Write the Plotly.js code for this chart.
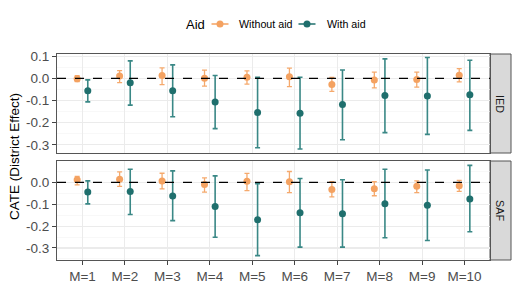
<!DOCTYPE html>
<html>
<head>
<meta charset="utf-8">
<script src="https://cdn.plot.ly/plotly-3.0.1.min.js"></script>
<style>html,body{margin:0;padding:0;background:#fff;}#chart{width:518px;height:291px;}</style>
</head>
<body>
<div id="chart"></div>
<script>
// ---- data ----
const categories = ["M=1","M=2","M=3","M=4","M=5","M=6","M=7","M=8","M=9","M=10"];
const groups = ["Without aid", "With aid"];
const legendTitle = "Aid";
const panels = ["IED", "SAF"];

const iedWithoutEst = [-0.002, 0.011, 0.013, 0.001, 0.005, 0.007, -0.028, -0.007, -0.005, 0.014];
const iedWithoutLo  = [-0.015, -0.019, -0.028, -0.035, -0.026, -0.037, -0.059, -0.043, -0.040, -0.016];
const iedWithoutHi  = [0.012, 0.035, 0.047, 0.037, 0.034, 0.046, 0.004, 0.028, 0.028, 0.044];

const iedWithEst = [-0.056, -0.020, -0.056, -0.107, -0.154, -0.157, -0.118, -0.077, -0.080, -0.074];
const iedWithLo  = [-0.106, -0.121, -0.173, -0.227, -0.313, -0.319, -0.277, -0.245, -0.253, -0.235];
const iedWithHi  = [-0.007, 0.079, 0.061, 0.013, 0.005, 0.005, 0.038, 0.088, 0.094, 0.082];

const safWithoutEst = [0.012, 0.015, 0.007, -0.009, 0.005, 0.003, -0.032, -0.029, -0.018, -0.015];
const safWithoutLo  = [-0.011, -0.018, -0.030, -0.044, -0.038, -0.047, -0.066, -0.061, -0.047, -0.041];
const safWithoutHi  = [0.028, 0.048, 0.042, 0.021, 0.041, 0.050, 0.003, 0.003, 0.007, 0.009];

const safWithEst = [-0.044, -0.042, -0.062, -0.110, -0.171, -0.139, -0.143, -0.098, -0.104, -0.076];
const safWithLo  = [-0.098, -0.147, -0.175, -0.251, -0.335, -0.296, -0.296, -0.253, -0.266, -0.226];
const safWithHi  = [0.007, 0.060, 0.053, 0.030, -0.006, 0.018, 0.012, 0.060, 0.057, 0.078];

const yTickVals = [0.1, 0.0, -0.1, -0.2, -0.3];
const yTickText = ["0.1", "0.0", "-0.1", "-0.2", "-0.3"];

// ---- styling ----
const ORANGE = "#F4A261", ORANGE_BAR = "#F5A96C";
const TEAL = "#1F6F6D", TEAL_BAR = "#3A8886";
const COLORS = [ORANGE, TEAL];
const DODGE = 0.125;
const FONT = "Liberation Sans, Arial, Helvetica, sans-serif";

function trace(name, est, lo, hi, offset, color, barColor, xa, ya, bw, bt) {
  return {
    type: "scatter", mode: "markers", name: name,
    x: est.map((_, i) => i + 1 + offset),
    y: est,
    xaxis: xa, yaxis: ya,
    showlegend: false,
    marker: {color: color, size: 7},
    error_y: {
      type: "data", symmetric: false,
      array: hi.map((h, i) => h - est[i]),
      arrayminus: lo.map((l, i) => est[i] - l),
      color: barColor, thickness: bt, width: bw
    },
    hoverinfo: "x+y"
  };
}

const data = [
  trace(groups[0], iedWithoutEst, iedWithoutLo, iedWithoutHi, -DODGE, ORANGE, ORANGE_BAR, "x", "y", 2.5, 1.3),
  trace(groups[1], iedWithEst, iedWithLo, iedWithHi, DODGE, TEAL, TEAL_BAR, "x", "y", 2.5, 1.6),
  trace(groups[0], safWithoutEst, safWithoutLo, safWithoutHi, -DODGE, ORANGE, ORANGE_BAR, "x2", "y2", 2.5, 1.3),
  trace(groups[1], safWithEst, safWithLo, safWithHi, DODGE, TEAL, TEAL_BAR, "x2", "y2", 2.5, 1.6)
];

const L = 57, R = 7, T = 54, B = 31, W = 518, H = 291;
const pw = W - L - R, ph = H - T - B;
const px = X => (X - L) / pw;
const py = Y => (H - B - Y) / ph;
const xDomEnd = px(490);
const topDom = [py(153), 1];
const botDom = [0, py(161)];

const xBase = {
  type: "linear", range: [0.4, 10.6],
  tickvals: categories.map((_, i) => i + 1), ticktext: categories,
  showgrid: true, gridcolor: "#EBEBEB", gridwidth: 1.1,
  zeroline: false, showline: true, mirror: true, linecolor: "#555", linewidth: 1,
  domain: [0, xDomEnd], fixedrange: true
};
const yBase = {
  tickvals: yTickVals, ticktext: yTickText,
  showgrid: true, gridcolor: "#EBEBEB", gridwidth: 1.1,
  minor: {dtick: 0.05, tick0: 0.05, showgrid: true, gridcolor: "#F4F4F4", gridwidth: 0.6, ticks: ""},
  zeroline: false, showline: true, mirror: true, linecolor: "#555", linewidth: 1,
  ticks: "outside", ticklen: 4, tickcolor: "#444", tickwidth: 1,
  tickfont: {family: FONT, size: 13.5, color: "#4D4D4D"}, fixedrange: true
};

// legend drawn in the top margin (ggplot-style compact keys)
const LEG_Y = 24;
const legendKeys = [{lineX0: 211.5, lineX1: 228.5, textX: 236.5}, {lineX0: 298.5, lineX1: 315.5, textX: 324.5}];
const legendShapes = [], legendAnn = [];
legendAnn.push({text: legendTitle, xref: "paper", yref: "paper", x: px(184), y: py(LEG_Y),
  xanchor: "left", yanchor: "middle", showarrow: false, font: {family: FONT, size: 13, color: "#000"}});
groups.forEach((g, i) => {
  const k = legendKeys[i];
  legendShapes.push({type: "line", xref: "paper", yref: "paper", x0: px(k.lineX0), x1: px(k.lineX1),
    y0: py(LEG_Y), y1: py(LEG_Y), line: {color: COLORS[i], width: 1.5}});
  const cx = (k.lineX0 + k.lineX1) / 2;
  legendShapes.push({type: "circle", xref: "paper", yref: "paper", xsizemode: "pixel", ysizemode: "pixel",
    xanchor: px(cx), yanchor: py(LEG_Y), x0: -3.5, x1: 3.5, y0: -3.5, y1: 3.5,
    fillcolor: COLORS[i], line: {width: 0}});
  legendAnn.push({text: g, xref: "paper", yref: "paper", x: px(k.textX), y: py(LEG_Y),
    xanchor: "left", yanchor: "middle", showarrow: false, font: {family: FONT, size: 10.7, color: "#000"}});
});

const layout = {
  width: W, height: H,
  margin: {l: L, r: R, t: T, b: B, pad: 0},
  paper_bgcolor: "#fff", plot_bgcolor: "#fff",
  font: {family: FONT, color: "#000"},
  showlegend: false,
  xaxis: Object.assign({}, xBase, {anchor: "y", showticklabels: false, ticks: ""}),
  xaxis2: Object.assign({}, xBase, {anchor: "y2", showticklabels: true, ticks: "outside", ticklen: 4,
    tickcolor: "#444", tickwidth: 1, tickfont: {family: FONT, size: 13.5, color: "#4D4D4D"}}),
  yaxis: Object.assign({}, yBase, {domain: topDom, range: [-0.337, 0.110], anchor: "x"}),
  yaxis2: Object.assign({}, yBase, {domain: botDom, range: [-0.355, 0.098], anchor: "x2"}),
  shapes: [
    {type: "line", xref: "x domain", yref: "y", x0: 0, x1: 1, y0: 0, y1: 0,
     line: {color: "#000", width: 1.3, dash: "dash"}, layer: "above"},
    {type: "line", xref: "x2 domain", yref: "y2", x0: 0, x1: 1, y0: 0, y1: 0,
     line: {color: "#000", width: 1.3, dash: "dash"}, layer: "above"},
    {type: "rect", xref: "paper", yref: "paper", x0: xDomEnd, x1: 1, y0: topDom[0], y1: topDom[1],
     fillcolor: "#D9D9D9", line: {color: "#555", width: 1}, layer: "below"},
    {type: "rect", xref: "paper", yref: "paper", x0: xDomEnd, x1: 1, y0: botDom[0], y1: botDom[1],
     fillcolor: "#D9D9D9", line: {color: "#555", width: 1}, layer: "below"}
  ].concat(legendShapes),
  annotations: [
    {text: panels[0], xref: "paper", yref: "paper", x: (xDomEnd + 1) / 2, y: (topDom[0] + topDom[1]) / 2,
     xanchor: "center", yanchor: "middle",
     showarrow: false, textangle: 90, font: {family: FONT, size: 10.8, color: "#1A1A1A"}},
    {text: panels[1], xref: "paper", yref: "paper", x: (xDomEnd + 1) / 2, y: (botDom[0] + botDom[1]) / 2,
     xanchor: "center", yanchor: "middle",
     showarrow: false, textangle: 90, font: {family: FONT, size: 10.8, color: "#1A1A1A"}},
    {text: "CATE (District Effect)", xref: "paper", yref: "paper", x: px(14), y: py(157),
     xanchor: "center", yanchor: "middle", showarrow: false, textangle: -90,
     font: {family: FONT, size: 13.5, color: "#000"}}
  ].concat(legendAnn)
};

Plotly.newPlot("chart", data, layout, {displayModeBar: false, staticPlot: true});
</script>
</body>
</html>
